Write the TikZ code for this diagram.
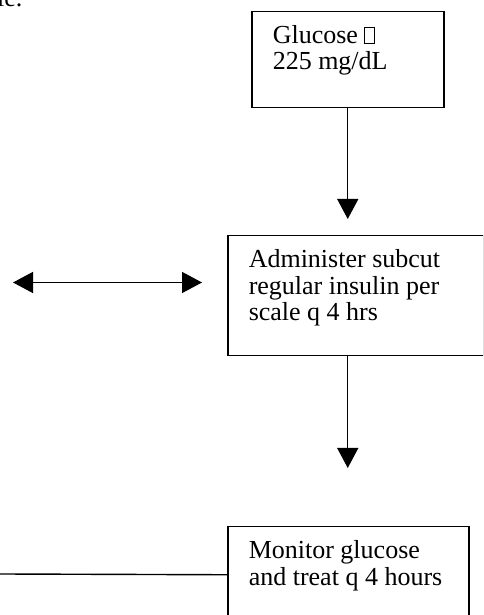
\documentclass[tikz,border=0pt]{standalone}
\usepackage{fontspec}
\setmainfont{Liberation Serif}
\usetikzlibrary{arrows.meta}
\setlength{\fboxsep}{0pt}
\setlength{\fboxrule}{0.8pt}
\newcommand{\tofu}{\fbox{\rule{0pt}{16pt}\rule{9pt}{0pt}}}
\tikzset{
 stepbox/.style={draw, line width=1.5pt, anchor=north west, align=flush left, inner xsep=21pt, inner ysep=14pt, text height=18pt},
 link/.style={line width=1.4pt}
}
\begin{document}
\begin{tikzpicture}[x=1pt, y=1pt, >={Triangle[length=20pt,width=21pt]}, font=\fontsize{26}{26.5}\selectfont]
 \useasboundingbox (0,0) rectangle (483,615);
 \clip (0,0) rectangle (483,615);

 \node[anchor=base west, inner sep=0pt] (frag) at (-3,608) {le.};
 \node[stepbox, text width=150pt, text depth=50pt] (gluc) at (251,604.3) {Glucose \tofu\\225 mg/dL};
 \node[stepbox, text width=213.5pt, text depth=74pt] (ins) at (227,380) {Administer subcut\\regular insulin per\\scale q 4 hrs};
 \node[stepbox, text width=199pt, text depth=50pt] (mon) at (227,89) {Monitor glucose\\and treat q 4 hours};

 \coordinate (lft) at (13,332.5);
 \coordinate (rgt) at (202,332.5);
 \coordinate (lend) at (0,41);

 \draw[->, link, shorten >=16pt](gluc.south)--(gluc.south |- ins.north);
 \draw[->, link, shorten >=58pt](gluc.south |- ins.south)--(gluc.south |- mon.north);
 \draw[<->, link](lft)--(rgt);
 \draw[link](lend)--(mon.west);

\end{tikzpicture}
\end{document}
